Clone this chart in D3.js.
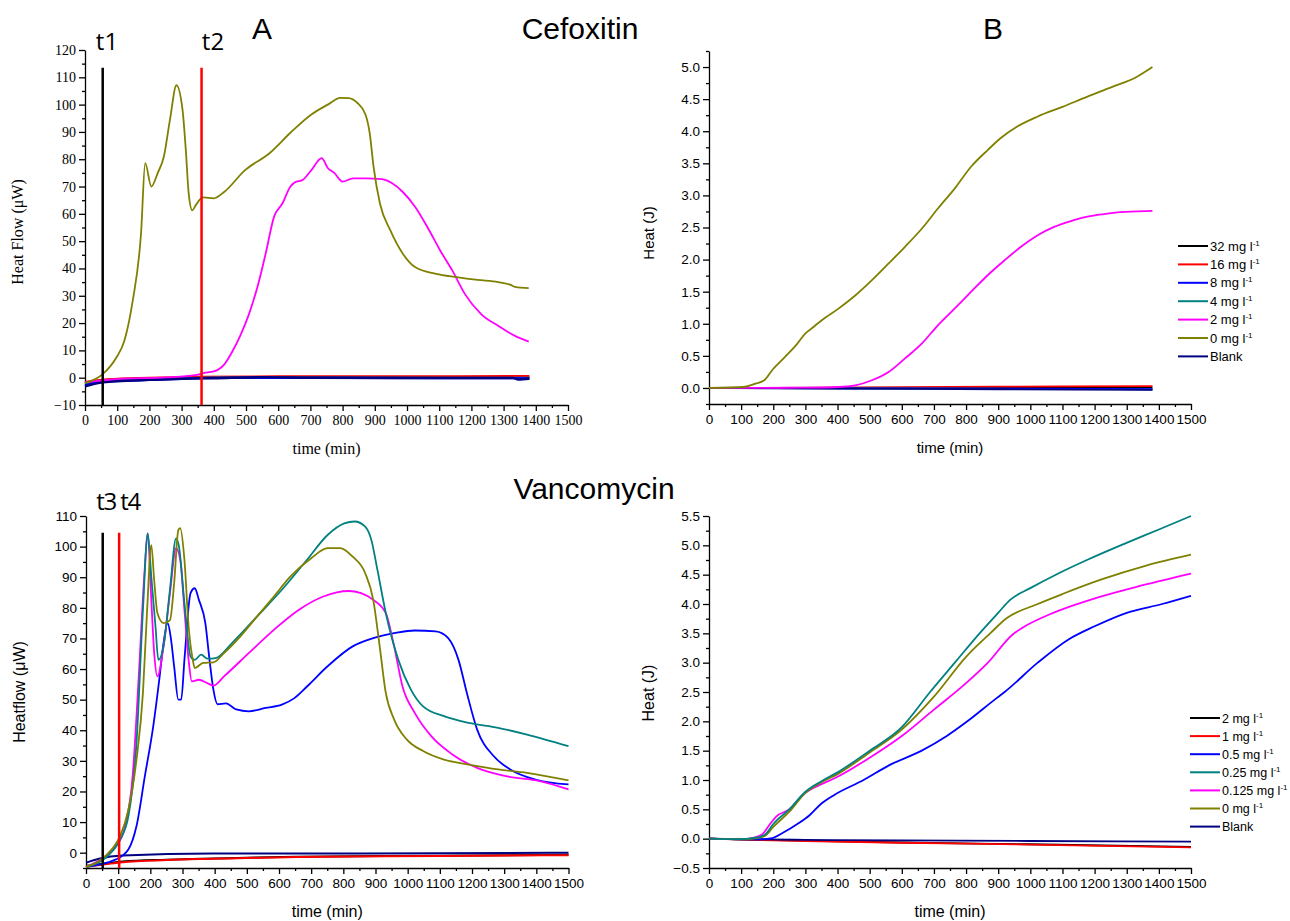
<!DOCTYPE html>
<html>
<head>
<meta charset="utf-8">
<script src="https://cdn.jsdelivr.net/npm/d3@7"></script>
<style>
  body { margin: 0; background: #fff; }
</style>
</head>
<body>
<svg id="chart" width="1290" height="921"></svg>
<script>
// ---- data: [time (min), value] ----
// Cefoxitin heat flow (uW)
const cefFlow0 = [[0,-2],[55,1.3],[97,7.3],[122,13.4],[148,28],[174,52.8],[187,78.6],[206,70],[226,75],[245,81],[264,94.6],[284,107.1],[303,98],[313,83.5],[322,67.5],[333,61.3],[344,63.2],[361,65.7],[368,66],[400,65.7],[432,68],[497,76],[574,82.3],[638,89.7],[703,96.4],[754,100],[793,102.5],[819,102.4],[845,100.7],[871,96.4],[884,89.7],[896,77.4],[916,63.8],[948,54],[987,45.4],[1025,40.5],[1090,38],[1154,36.8],[1219,35.8],[1283,35],[1322,34],[1335,33.3],[1378,32.8]];
const cefFlow2 = [[0,-1.7],[97,-0.5],[252,0.1],[342,0.9],[368,1.7],[400,2.3],[432,4.8],[458,9.7],[484,15.9],[509,23.2],[535,33],[561,45.4],[587,58.9],[613,63.8],[638,70],[651,71.5],[677,72.5],[703,76],[735,80.4],[754,76.8],[774,75],[800,71.8],[832,73],[871,73],[922,72.7],[954,71.2],[987,68],[1025,62.6],[1064,55],[1103,46.6],[1141,39.2],[1180,30.6],[1231,23.2],[1283,19],[1335,15.3],[1378,13.2]];
const cefFlow32 = [[0,-2],[50,-1],[100,-0.6],[200,-0.3],[400,0],[800,0],[1380,0]];
const cefFlow16 = [[0,-1.6],[30,-1.1],[100,-0.4],[200,-0.1],[350,0.3],[600,0.5],[1000,0.5],[1380,0.6]];
const cefFlow8 = [[0,-2.8],[50,-1.6],[150,-1],[300,-0.4],[400,-0.1],[800,-0.1],[1380,-0.2]];
const cefFlow4 = [[0,-2.6],[50,-1.5],[150,-0.9],[300,-0.3],[400,0],[800,0],[1380,-0.1]];
const cefFlowBlank = [[0,-3.2],[50,-1.8],[100,-1.3],[200,-0.8],[300,-0.4],[400,-0.2],[550,0.2],[700,0],[1000,-0.1],[1330,-0.1],[1345,-0.7],[1380,-0.4]];

// Cefoxitin heat (J)
const cefHeat0 = [[0,0],[107,0.015],[146,0.07],[172,0.12],[197,0.28],[236,0.48],[275,0.69],[300,0.85],[320,0.93],[352,1.06],[404,1.24],[455,1.44],[507,1.68],[559,1.94],[610,2.2],[662,2.48],[713,2.8],[765,3.11],[816,3.45],[868,3.71],[907,3.89],[958,4.07],[1023,4.23],[1100,4.38],[1178,4.54],[1255,4.69],[1332,4.85],[1380,5.0]];
const cefHeat2 = [[0,0],[300,0.005],[404,0.015],[455,0.04],[507,0.12],[559,0.25],[610,0.46],[662,0.69],[713,0.98],[765,1.24],[816,1.5],[868,1.76],[920,1.99],[971,2.2],[1023,2.38],[1074,2.51],[1126,2.6],[1178,2.67],[1229,2.71],[1281,2.74],[1332,2.75],[1380,2.76]];
const cefHeat32 = [[0,0],[700,0.005],[1380,0.01]];
const cefHeat16 = [[0,0],[400,0.005],[900,0.02],[1380,0.03]];
const cefHeat8 = [[0,0],[400,-0.005],[900,-0.01],[1380,-0.02]];
const cefHeat4 = [[0,0],[400,-0.005],[900,-0.012],[1380,-0.02]];
const cefHeatBlank = [[0,0],[400,-0.01],[900,-0.02],[1380,-0.03]];

// Vancomycin heat flow (uW)
const vanFlow0 = [[0,-4.6],[41,-2.7],[80,1.1],[106,5.4],[132,14.1],[157,30.4],[177,52.2],[190,79.3],[203,100.5],[212,89],[222,78.3],[241,75],[261,76],[274,88],[287,105.4],[293,106],[306,95.7],[319,73.9],[332,63],[338,60.3],[364,62],[396,62.2],[429,65.2],[480,70.7],[532,77.2],[584,83.7],[635,90.2],[700,96.2],[751,99.5],[790,99.5],[829,96.7],[868,91.3],[893,82.6],[913,67.4],[932,52.2],[958,43.5],[997,37],[1048,33.2],[1113,30.4],[1190,28.8],[1281,27.2],[1371,26.1],[1500,23.6]];
const vanFlow025 = [[0,-4.6],[67,-1.1],[106,4.3],[132,12],[157,35.9],[177,79.3],[192,104.3],[203,90.2],[216,73.9],[225,63],[241,67.4],[261,85.9],[280,102.7],[289,100],[306,81.5],[325,64.1],[338,63],[358,64.7],[377,63.4],[403,63.6],[454,68.5],[532,77.2],[609,85.9],[687,95.7],[751,103.8],[803,107.6],[835,108.2],[868,106.5],[887,102.2],[906,92.4],[932,78.3],[971,63],[1010,53.3],[1048,47.8],[1113,44.6],[1190,42.4],[1281,40.8],[1371,38.6],[1500,34.8]];
const vanFlow0125 = [[0,-4.6],[54,-1.6],[93,2.2],[119,7.6],[145,25],[164,57.6],[181,90.2],[192,104.3],[203,82.6],[212,65.2],[222,57.6],[241,67.4],[261,84.8],[280,99.5],[293,95.7],[306,79.3],[319,63],[329,56],[351,56.5],[377,55.4],[396,54.6],[429,57.6],[506,65.2],[584,72.8],[661,79.3],[738,83.7],[816,85.5],[855,84.8],[893,82.6],[932,78.3],[958,67.4],[984,54.3],[1022,45.7],[1074,38],[1139,32.1],[1216,27.7],[1306,25],[1410,23.4],[1500,20.7]];
const vanFlow05 = [[0,-4.6],[93,-2.2],[132,1.1],[157,8.7],[183,25],[209,41.3],[229,57.6],[241,68.5],[254,75],[263,70.7],[274,60.9],[287,50],[296,50],[306,63],[325,84.8],[338,86.4],[351,82.6],[371,75],[384,63],[396,53.3],[409,48.5],[435,48.8],[467,46.8],[506,46.2],[558,47.3],[609,48.4],[648,50.5],[687,54.3],[751,60.9],[829,67.4],[893,70.1],[958,71.7],[1022,72.6],[1087,72.3],[1126,70.1],[1158,63],[1184,52.2],[1216,40.2],[1268,31.5],[1319,27.2],[1397,23.9],[1500,22.3]];
const vanFlow2 = [[0,-4.3],[60,-3.5],[114,-2.9],[250,-2.3],[394,-1.9],[655,-1.3],[1100,-1],[1500,-0.7]];
const vanFlow1 = [[0,-4.6],[60,-3.8],[114,-3.1],[250,-2.4],[394,-2],[655,-1.4],[1100,-1.1],[1500,-0.8]];
const vanFlowBlank = [[0,-3.3],[40,-2],[114,-0.9],[394,-0.3],[700,-0.3],[1100,-0.2],[1500,0]];

// Vancomycin heat (J)
const vanHeat025 = [[0,0],[100,-0.01],[150,0.02],[175,0.07],[200,0.25],[250,0.5],[300,0.8],[350,0.98],[400,1.13],[500,1.5],[600,1.9],[688,2.5],[765,3.0],[842,3.5],[900,3.85],[937,4.07],[1000,4.27],[1087,4.52],[1176,4.75],[1294,5.03],[1400,5.27],[1500,5.5]];
const vanHeat0 = [[0,0],[100,-0.01],[150,0.01],[175,0.05],[200,0.2],[250,0.46],[300,0.78],[350,0.96],[400,1.1],[500,1.47],[600,1.86],[700,2.42],[800,3.1],[875,3.5],[927,3.76],[1023,4.0],[1100,4.17],[1217,4.41],[1358,4.65],[1500,4.84]];
const vanHeat0125 = [[0,0],[100,-0.01],[140,0.02],[165,0.07],[190,0.25],[210,0.38],[250,0.5],[300,0.78],[350,0.93],[391,1.03],[500,1.38],[600,1.75],[700,2.2],[800,2.65],[868,3.0],[945,3.48],[977,3.6],[1050,3.8],[1203,4.1],[1350,4.32],[1500,4.52]];
const vanHeat05 = [[0,0],[150,-0.01],[197,0.01],[230,0.1],[275,0.25],[313,0.4],[350,0.6],[391,0.75],[481,1.0],[560,1.25],[662,1.5],[740,1.75],[804,2.0],[896,2.4],[920,2.5],[1023,3.0],[1120,3.4],[1200,3.62],[1300,3.85],[1410,4.0],[1500,4.14]];
const vanHeat2 = [[0,0],[100,-0.012],[300,-0.035],[600,-0.065],[1000,-0.095],[1500,-0.14]];
const vanHeat1 = [[0,0],[100,-0.015],[300,-0.04],[600,-0.07],[1000,-0.1],[1500,-0.15]];
const vanHeatBlank = [[0,0],[100,-0.01],[300,-0.02],[600,-0.03],[1000,-0.04],[1500,-0.05]];

// ---- labels and ticks ----
const timeTicks = d3.range(0, 1501, 100);
const timeMinor = d3.range(50, 1500, 100);
const cefLegend = ["32 mg l", "16 mg l", "8 mg l", "4 mg l", "2 mg l", "0 mg l", "Blank"];
const vanLegend = ["2 mg l", "1 mg l", "0.5 mg l", "0.25 mg l", "0.125 mg l", "0 mg l", "Blank"];
const legendColors = ["#000000", "#ff0000", "#0000ff", "#008080", "#ff00ff", "#808000", "#000080"];

const svg = d3.select("#chart");
const SERIF = "'Liberation Serif', 'Times New Roman', serif";
const SANS = "'Liberation Sans', Arial, sans-serif";

function drawPanel(p) {
    const x = d3.scaleLinear().domain([0, 1500]).range(p.xRange);
    const y = d3.scaleLinear().domain(p.yDomain).range(p.yRange);
    const g = svg.append("g");

    // X-axis (major + minor ticks)
    g.append("g")
        .attr("transform", `translate(0, ${p.yRange[0]})`)
        .call(d3.axisBottom(x).tickValues(timeTicks).tickSize(6).tickSizeOuter(0).tickPadding(4).tickFormat(d3.format("d")));
    g.append("g")
        .attr("transform", `translate(0, ${p.yRange[0]})`)
        .call(d3.axisBottom(x).tickValues(timeMinor).tickSize(3).tickFormat(""))
        .select(".domain").remove();

    // Y-axis
    g.append("g")
        .attr("transform", `translate(${p.xRange[0]}, 0)`)
        .call(d3.axisLeft(y).tickValues(p.yTicks).tickSize(6).tickSizeOuter(0).tickPadding(3).tickFormat(p.yFormat));
    g.append("g")
        .attr("transform", `translate(${p.xRange[0]}, 0)`)
        .call(d3.axisLeft(y).tickValues(p.yMinor).tickSize(3).tickFormat(""))
        .select(".domain").remove();

    g.selectAll(".tick line, .domain").attr("stroke", "#000").attr("stroke-width", 1.3);
    g.selectAll(".tick text").attr("font-family", p.font).attr("font-size", p.tickSize).attr("fill", "#000");

    // axis titles
    g.append("text")
        .attr("x", (p.xRange[0] + p.xRange[1]) / 2)
        .attr("y", p.yRange[0] + 49)
        .attr("text-anchor", "middle")
        .attr("font-family", p.font)
        .attr("font-size", p.titleSize)
        .text("time (min)");
    g.append("text")
        .attr("transform", `translate(${p.yLabelX}, ${p.yLabelY}) rotate(-90)`)
        .attr("text-anchor", "middle")
        .attr("font-family", p.font)
        .attr("font-size", p.titleSize)
        .text(p.yLabel);

    // curves
    const line = d3.line()
        .x(d => x(d[0]))
        .y(d => y(d[1]))
        .curve(d3.curveMonotoneX);

    p.series.forEach(s => {
        g.append("path")
            .datum(s.data)
            .attr("fill", "none")
            .attr("stroke", s.color)
            .attr("stroke-width", s.width || 1.8)
            .attr("d", line);
    });

    // time markers
    (p.markers || []).forEach(m => {
        g.append("line")
            .attr("x1", x(m.t)).attr("x2", x(m.t))
            .attr("y1", y(p.yDomain[0])).attr("y2", y(m.top))
            .attr("stroke", m.color)
            .attr("stroke-width", 2.5);
    });

    // legend
    if (p.legend) {
        const lg = g.append("g").attr("transform", `translate(${p.legendX}, ${p.legendY})`);
        p.legend.forEach((name, i) => {
            const row = lg.append("g").attr("transform", `translate(0, ${i * p.legendStep})`);
            row.append("line")
                .attr("x1", 0).attr("x2", 30)
                .attr("stroke", legendColors[i])
                .attr("stroke-width", 2);
            const t = row.append("text")
                .attr("x", 32).attr("y", 4.5)
                .attr("font-family", p.font)
                .attr("font-size", p.legendSize);
            t.append("tspan").text(name);
            if (name !== "Blank") {
                t.append("tspan").attr("dy", -5).attr("font-size", 8).text("-1");
            }
        });
    }
}

// Panel A: Cefoxitin heat flow
drawPanel({
    xRange: [85, 568], yRange: [405, 50], yDomain: [-10, 120],
    yTicks: d3.range(-10, 121, 10), yMinor: d3.range(-5, 120, 10), yFormat: d3.format("d"),
    font: SERIF, titleSize: 16, tickSize: 14,
    yLabel: "Heat Flow (\u03BCW)", yLabelX: 23, yLabelY: 232,
    series: [
        { data: cefFlow32, color: "#000000", width: 2.2 },
        { data: cefFlow16, color: "#ff0000", width: 2.2 },
        { data: cefFlow4, color: "#008080", width: 2.2 },
        { data: cefFlow8, color: "#0000ff", width: 2.2 },
        { data: cefFlowBlank, color: "#000080", width: 2.4 },
        { data: cefFlow2, color: "#ff00ff" },
        { data: cefFlow0, color: "#808000" }
    ],
    markers: [{ t: 55, top: 113.5, color: "#000000" }, { t: 362, top: 113.5, color: "#ff0000" }]
});

// Panel B: Cefoxitin heat
drawPanel({
    xRange: [709, 1191], yRange: [404, 51], yDomain: [-0.25, 5.25],
    yTicks: d3.range(0, 5.01, 0.5), yMinor: d3.range(-0.25, 5.3, 0.5), yFormat: d3.format(".1f"),
    font: SANS, titleSize: 15, tickSize: 13.5,
    yLabel: "Heat (J)", yLabelX: 654, yLabelY: 233,
    series: [
        { data: cefHeat32, color: "#000000" },
        { data: cefHeat16, color: "#ff0000" },
        { data: cefHeat4, color: "#008080" },
        { data: cefHeat8, color: "#0000ff" },
        { data: cefHeatBlank, color: "#000080" },
        { data: cefHeat2, color: "#ff00ff" },
        { data: cefHeat0, color: "#808000" }
    ],
    legend: cefLegend, legendX: 1178, legendY: 246, legendStep: 18.4, legendSize: 13
});

// Panel C: Vancomycin heat flow
drawPanel({
    xRange: [86, 568.5], yRange: [868, 516], yDomain: [-5, 110],
    yTicks: d3.range(0, 111, 10), yMinor: d3.range(-5, 110, 10), yFormat: d3.format("d"),
    font: SANS, titleSize: 16, tickSize: 13.5,
    yLabel: "Heatflow (\u03BCW)", yLabelX: 25, yLabelY: 692,
    series: [
        { data: vanFlow2, color: "#000000", width: 2 },
        { data: vanFlow1, color: "#ff0000", width: 2 },
        { data: vanFlowBlank, color: "#000080", width: 2 },
        { data: vanFlow05, color: "#0000ff" },
        { data: vanFlow0125, color: "#ff00ff" },
        { data: vanFlow025, color: "#008080" },
        { data: vanFlow0, color: "#808000" }
    ],
    markers: [{ t: 52, top: 104.5, color: "#000000" }, { t: 103, top: 104.5, color: "#ff0000" }]
});

// Panel D: Vancomycin heat
drawPanel({
    xRange: [709, 1191], yRange: [868, 516], yDomain: [-0.5, 5.5],
    yTicks: d3.range(-0.5, 5.51, 0.5), yMinor: d3.range(-0.25, 5.5, 0.5), yFormat: d3.format(".1f"),
    font: SANS, titleSize: 16, tickSize: 13.5,
    yLabel: "Heat (J)", yLabelX: 654, yLabelY: 693,
    series: [
        { data: vanHeat2, color: "#000000" },
        { data: vanHeat1, color: "#ff0000" },
        { data: vanHeatBlank, color: "#000080" },
        { data: vanHeat05, color: "#0000ff" },
        { data: vanHeat0125, color: "#ff00ff" },
        { data: vanHeat0, color: "#808000" },
        { data: vanHeat025, color: "#008080" }
    ],
    legend: vanLegend, legendX: 1190, legendY: 718, legendStep: 18.1, legendSize: 12.5
});

// headings
const headings = [
    { text: "A", x: 262, y: 39, size: 30, font: SANS },
    { text: "Cefoxitin", x: 580, y: 39, size: 30, font: SANS },
    { text: "B", x: 993, y: 39, size: 30, font: SANS },
    { text: "Vancomycin", x: 594, y: 499, size: 30, font: SANS },
    { text: "t1", x: 107, y: 50, size: 24, font: "'Open Sans', sans-serif" },
    { text: "t2", x: 213, y: 50, size: 24, font: "'Open Sans', sans-serif" },
    { text: "t3 t4", x: 118, y: 510, size: 24, font: "'Open Sans', sans-serif" }
];
svg.selectAll(".heading")
    .data(headings)
    .enter().append("text")
    .attr("class", "heading")
    .attr("x", d => d.x)
    .attr("y", d => d.y)
    .attr("text-anchor", "middle")
    .attr("font-family", d => d.font)
    .attr("font-size", d => d.size)
    .attr("letter-spacing", d => d.text === "t3 t4" ? -1.5 : 0)
    .text(d => d.text);
</script>
</body>
</html>
